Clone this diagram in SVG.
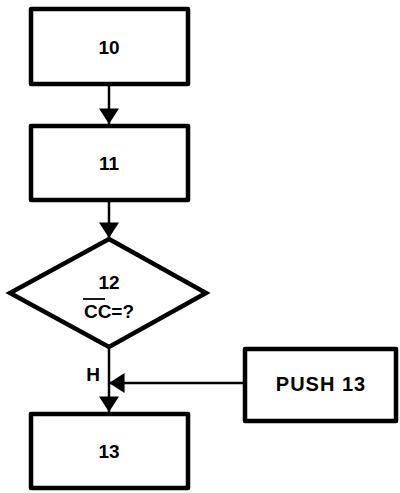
<svg xmlns="http://www.w3.org/2000/svg" width="400" height="493" viewBox="0 0 400 493">
<style>
.box{fill:#fff;stroke:#000;stroke-width:4.5;stroke-linejoin:round}
.lbl{font-family:"Liberation Sans",Arial,sans-serif;font-weight:bold;font-size:19px;text-anchor:middle;dominant-baseline:central;fill:#000}
.conn{stroke:#000;stroke-width:2.5;fill:none}
</style>
<defs>
<marker id="ah" markerUnits="userSpaceOnUse" markerWidth="20" markerHeight="20" viewBox="0 0 14 18" refX="14" refY="9" orient="auto">
<path d="M0,0 L14,9 L0,18 Z" fill="#000"/>
</marker>
</defs>
<rect width="400" height="493" fill="#fff"/>
<g id="connectors">
<line class="conn" x1="109" y1="86" x2="109" y2="124" marker-end="url(#ah)"/>
<line class="conn" x1="109" y1="202" x2="109" y2="238" marker-end="url(#ah)"/>
<line class="conn" x1="109" y1="348" x2="109" y2="412" marker-end="url(#ah)"/>
<line class="conn" x1="244" y1="383" x2="109" y2="383" marker-end="url(#ah)"/>
<text class="lbl" x="93" y="374">H</text>
</g>
<g id="n10">
<rect class="box" x="31" y="9" width="157" height="75"/>
<text class="lbl" x="109" y="47">10</text>
</g>
<g id="n11">
<rect class="box" x="31" y="126" width="157" height="74"/>
<text class="lbl" x="109" y="163">11</text>
</g>
<g id="n12">
<polygon class="box" style="stroke-linejoin:miter" points="109,239 206,293 109,347 10,293"/>
<text class="lbl" x="109" y="282">12</text>
<text class="lbl" x="109" y="311">CC=?</text>
<line x1="83" y1="299" x2="105" y2="299" stroke="#000" stroke-width="1.8"/>
</g>
<g id="n13">
<rect class="box" x="31" y="414" width="157" height="74"/>
<text class="lbl" x="109" y="451">13</text>
</g>
<g id="push13">
<rect class="box" x="245" y="349" width="151" height="72"/>
<text class="lbl" x="321" y="384" style="font-size:20px;letter-spacing:1px">PUSH 13</text>
</g>
</svg>
